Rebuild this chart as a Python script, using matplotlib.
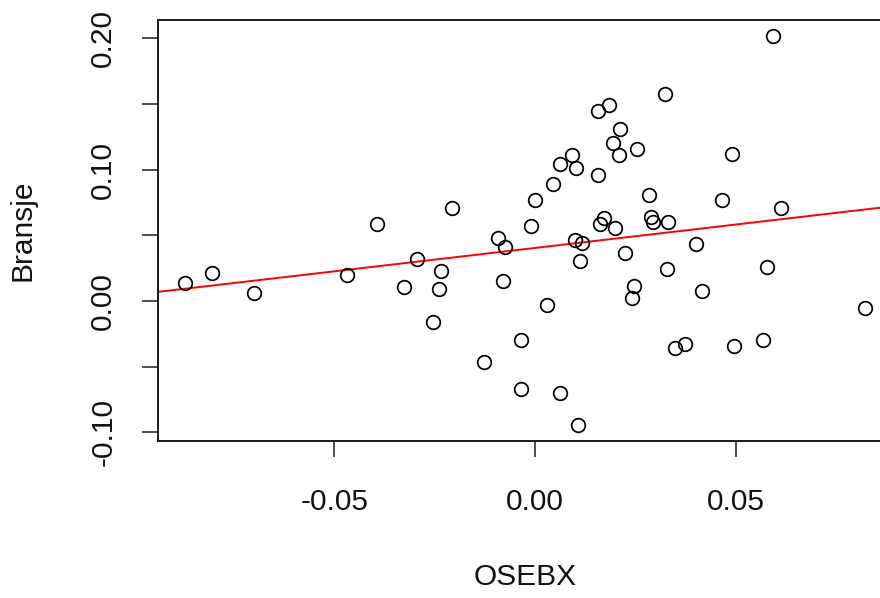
import numpy as np
import matplotlib
matplotlib.use("Agg")
import matplotlib.pyplot as plt

plt.rcParams['font.family'] = ['Liberation Sans', 'DejaVu Sans']

osebx = [-0.0871, -0.0805, -0.0699, -0.0467, -0.0394, -0.0325, -0.0293, -0.0233,
         -0.0239, -0.0253, -0.0207, -0.0126, -0.0092, -0.0075, -0.0081, -0.0035,
         -0.0035, -0.0010, -0.0001, 0.0045, 0.0030, 0.0061, 0.0091, 0.0101,
         0.0061, 0.0106, 0.0100, 0.0117, 0.0111, 0.0157, 0.0183, 0.0157,
         0.0212, 0.0193, 0.0208, 0.0253, 0.0171, 0.0161, 0.0198, 0.0223,
         0.0247, 0.0242, 0.0324, 0.0284, 0.0288, 0.0293, 0.0330, 0.0400,
         0.0329, 0.0415, 0.0348, 0.0374, 0.0466, 0.0491, 0.0496, 0.0567,
         0.0577, 0.0592, 0.0613, 0.0821]
bransje = [0.0134, 0.0214, 0.0058, 0.0199, 0.0583, 0.0104, 0.0323, 0.0229,
           0.0089, -0.0158, 0.0708, -0.0469, 0.0476, 0.0410, 0.0150, -0.0298,
           -0.0670, 0.0568, 0.0769, 0.0891, -0.0034, 0.1047, 0.1110, 0.1016,
           -0.0701, -0.0945, 0.0461, 0.0443, 0.0303, 0.1449, 0.1495, 0.0957,
           0.1309, 0.1202, 0.1110, 0.1156, 0.0631, 0.0585, 0.0552, 0.0367,
           0.0112, 0.0025, 0.1574, 0.0805, 0.0642, 0.0604, 0.0601, 0.0430,
           0.0245, 0.0076, -0.0362, -0.0329, 0.0769, 0.1123, -0.0344, -0.0296,
           0.0260, 0.2022, 0.0708, -0.0051]

x_ticks = [-0.05, 0.00, 0.05]
x_ticklabels = ['-0.05', '0.00', '0.05']
y_ticks = [-0.10, -0.05, 0.00, 0.05, 0.10, 0.15, 0.20]
y_ticklabels = ['-0.10', '', '0.00', '', '0.10', '', '0.20']

x = np.array(osebx)
y = np.array(bransje)
slope, intercept = np.polyfit(x, y, 1)

W, H = 880, 598
fig = plt.figure(figsize=(W / 100, H / 100), dpi=100)
left, right, top, bottom = 158, 892, 20, 440.5
ax = fig.add_axes([left / W, 1 - bottom / H, (right - left) / W, (bottom - top) / H])

ax.plot(x, y, 'o', mfc='none', mec='black', ms=9.8, mew=1.25, zorder=3)
ax.margins(x=0.04, y=0.04)
ax.autoscale_view()
ax.axline((0, intercept), slope=slope, color='red', lw=1.4, zorder=2)

ax.set_xticks(x_ticks)
ax.set_xticklabels(x_ticklabels)
ax.set_yticks(y_ticks)
ax.set_yticklabels(y_ticklabels, rotation=90, va='center', ha='right')

fs = 21.5
ax.tick_params(axis='both', direction='out', length=11.3, width=1.1, colors='#1a1a1a',
               labelsize=fs, labelcolor='#111111')
ax.tick_params(axis='x', pad=23)
ax.tick_params(axis='y', pad=18)

for s in ax.spines.values():
    s.set_linewidth(1.4)
    s.set_color('#1a1a1a')

ax.set_xlabel('OSEBX', fontsize=fs, color='#111111', va='center')
ax.xaxis.set_label_coords(0.5, (bottom - 577) / (bottom - top))
ax.set_ylabel('Bransje', fontsize=fs, color='#111111', va='center')
ax.yaxis.set_label_coords((22.3 - left) / (right - left), 0.5)

fig.savefig('out.png', dpi=100)
